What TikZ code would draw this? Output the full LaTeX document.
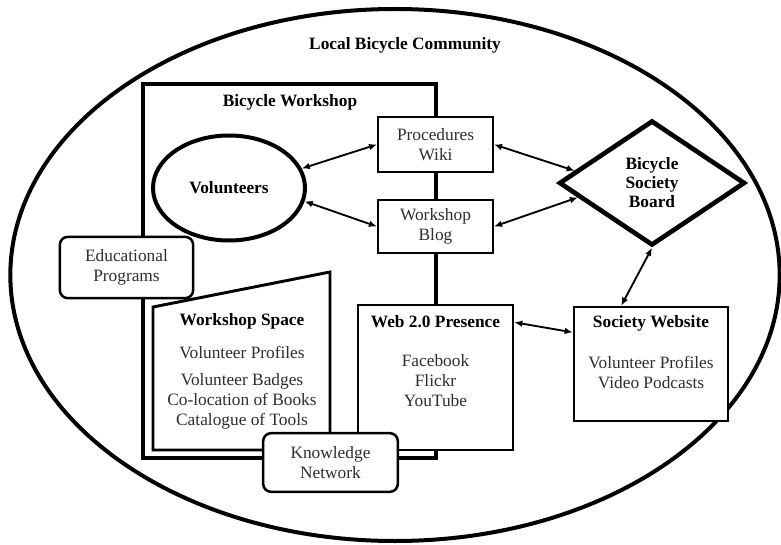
\documentclass[tikz,border=0pt]{standalone}
\usepackage{fontspec}
\setmainfont{Liberation Serif}
\usetikzlibrary{shapes.geometric,arrows.meta}

\definecolor{ink}{gray}{0.18}
\tikzstyle{panel}=[draw,fill=white,line width=1.6pt,align=center,text=ink,inner sep=0pt]
\tikzstyle{soft}=[panel,rounded corners=6pt,line width=1.9pt]
\tikzstyle{heading}=[font=\bfseries\fontsize{13}{15}\selectfont,text=black]
\tikzstyle{items}=[align=center,text=ink]
\tikzstyle{link}=[line width=1.4pt,{Latex[length=6pt,width=5pt]}-{Latex[length=6pt,width=5pt]}]

\begin{document}
\begin{tikzpicture}[x=0.75pt,y=-0.75pt,font=\fontsize{13}{15}\selectfont]
  \useasboundingbox (0,0) rectangle (781,545);

  \node[ellipse,draw,line width=3pt,minimum width=577pt,minimum height=399pt] (community) at (395,275) {};
  \node[heading] (communitytitle) at (405,45) {Local Bicycle Community};

  \node[draw,line width=3.6pt,minimum width=219.75pt,minimum height=280.5pt] (workshop) at (289.5,271) {};
  \node[heading] (workshoptitle) at (290,102) {Bicycle Workshop};

  \draw[line width=2.2pt,fill=white] (153,307) -- (330,272) -- (330,450) -- (153,450) -- cycle;
  \node[heading] (spacetitle) at (242,321) {Workshop Space};
  \node[items] (spacelist) at (242,388) {Volunteer Profiles\\[5pt]Volunteer Badges\\Co-location of Books\\Catalogue of Tools};

  \node[ellipse,draw,fill=white,line width=3pt,minimum width=114pt,minimum height=78.75pt,heading] (vol) at (229,188) {Volunteers};

  \node[panel,minimum width=86.25pt,minimum height=41.25pt] (proc) at (435.5,144.5) {Procedures\\Wiki};
  \node[panel,minimum width=86.25pt,minimum height=40pt] (blog) at (435.5,226.5) {Workshop\\Blog};

  \node[panel,line width=2pt,minimum width=116.25pt,minimum height=108.75pt] (web) at (435.5,377.5) {};
  \node[heading] (webtitle) at (435.5,322) {Web 2.0 Presence};
  \node[items] (weblist) at (435.5,381) {Facebook\\Flickr\\YouTube};

  \node[panel,line width=2pt,minimum width=115.5pt,minimum height=85.5pt] (site) at (651,364) {};
  \node[heading] (sitetitle) at (651,323) {Society Website};
  \node[items] (sitelist) at (651,373) {Volunteer Profiles\\Video Podcasts};

  \node[soft,minimum width=100pt,minimum height=46pt] (edu) at (126.5,267.5) {Educational\\Programs};
  \node[soft,minimum width=101pt,minimum height=44pt] (know) at (330.5,462.5) {Knowledge\\Network};

  \node[diamond,draw,fill=white,line width=3.5pt,inner sep=0pt,aspect=1.5,minimum width=139.5pt,minimum height=93.75pt,align=center,font=\bfseries\fontsize{13}{14.3}\selectfont] (board) at (652,183) {Bicycle\\Society\\Board};

  \draw[link] (vol.15) -- (proc.west);
  \draw[link] (vol.-10) -- (blog.west);
  \draw[link] (proc.east) -- (board.171);
  \draw[link] (blog.east) -- (board.191);
  \draw[link] (board.south) -- (site.117);
  \draw[link] (web.35) -- (site.158);

\end{tikzpicture}
\end{document}
